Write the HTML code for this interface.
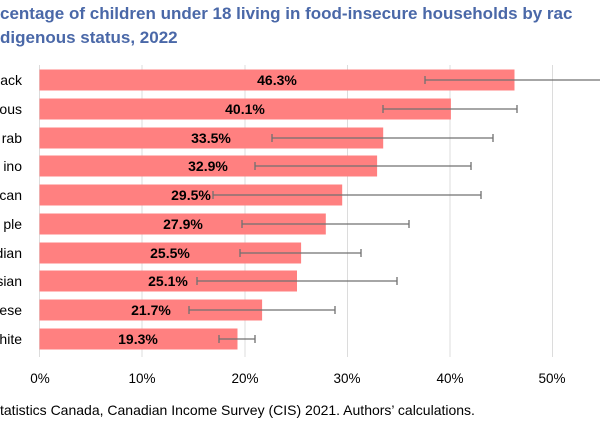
<!DOCTYPE html>
<html><head><style>
body{margin:0;width:600px;height:428px;background:#fff;overflow:hidden;font-family:"Liberation Sans",sans-serif}
</style></head><body>
<svg width="600" height="428" xmlns="http://www.w3.org/2000/svg" font-family="Liberation Sans, sans-serif">
<text x="0" y="19" font-size="17" font-weight="bold" fill="#4a68a8">centage of children under 18 living in food-insecure households by rac</text>
<text x="0" y="43" font-size="17" font-weight="bold" fill="#4a68a8">digenous status, 2022</text>
<g stroke="#dcdcdc" stroke-width="1">
<line x1="39.5" y1="65" x2="39.5" y2="357"/>
<line x1="142" y1="65" x2="142" y2="357"/>
<line x1="245" y1="65" x2="245" y2="357"/>
<line x1="347.5" y1="65" x2="347.5" y2="357"/>
<line x1="450" y1="65" x2="450" y2="357"/>
<line x1="552.5" y1="65" x2="552.5" y2="357"/>
</g>
<g fill="#ff8080">
<rect x="39.5" y="69.5" width="475" height="21"/>
<rect x="39.5" y="98.5" width="411.4" height="21"/>
<rect x="39.5" y="127.5" width="343.7" height="21"/>
<rect x="39.5" y="155.5" width="337.6" height="21"/>
<rect x="39.5" y="184.5" width="302.7" height="21"/>
<rect x="39.5" y="213.5" width="286.3" height="21"/>
<rect x="39.5" y="242.5" width="261.6" height="21"/>
<rect x="39.5" y="270.5" width="257.5" height="21"/>
<rect x="39.5" y="299.5" width="222.6" height="21"/>
<rect x="39.5" y="328.5" width="198" height="21"/>
</g>
<g font-size="14" font-weight="bold" text-anchor="middle" fill="#000">
<text x="277" y="85">46.3%</text>
<text x="245" y="114">40.1%</text>
<text x="211" y="143">33.5%</text>
<text x="208" y="171">32.9%</text>
<text x="191" y="200">29.5%</text>
<text x="183" y="229">27.9%</text>
<text x="170" y="258">25.5%</text>
<text x="168" y="286">25.1%</text>
<text x="151" y="315">21.7%</text>
<text x="138" y="344">19.3%</text>
</g>
<g stroke="#707070" stroke-width="1.3" fill="none">
<path d="M425 80H610M425 76V84"/>
<path d="M383 109H517M383 105V113M517 105V113"/>
<path d="M272 138H493M272 134V142M493 134V142"/>
<path d="M255 166H471M255 162V170M471 162V170"/>
<path d="M213 195H481M213 191V199M481 191V199"/>
<path d="M242 224H409M242 220V228M409 220V228"/>
<path d="M240 253H361M240 249V257M361 249V257"/>
<path d="M197 281H397M197 277V285M397 277V285"/>
<path d="M189 310H335M189 306V314M335 306V314"/>
<path d="M219 339H255M219 335V343M255 335V343"/>
</g>
<g font-size="14" text-anchor="end" fill="#000">
<text x="22" y="85">ack</text>
<text x="22" y="114">ous</text>
<text x="22" y="143">rab</text>
<text x="22" y="171">ino</text>
<text x="22" y="200">can</text>
<text x="22" y="229">ple</text>
<text x="22" y="258">dian</text>
<text x="22" y="286">sian</text>
<text x="22" y="315">ese</text>
<text x="22" y="344">hite</text>
</g>
<g font-size="13.5" fill="#000" text-anchor="middle">
<text x="40" y="383">0%</text><text x="142" y="383">10%</text><text x="245" y="383">20%</text>
<text x="347" y="383">30%</text><text x="450" y="383">40%</text><text x="552" y="383">50%</text>
</g>
<text x="0" y="415" font-size="14" fill="#000">tatistics Canada, Canadian Income Survey (CIS) 2021. Authors’ calculations.</text>
</svg>
</body></html>
